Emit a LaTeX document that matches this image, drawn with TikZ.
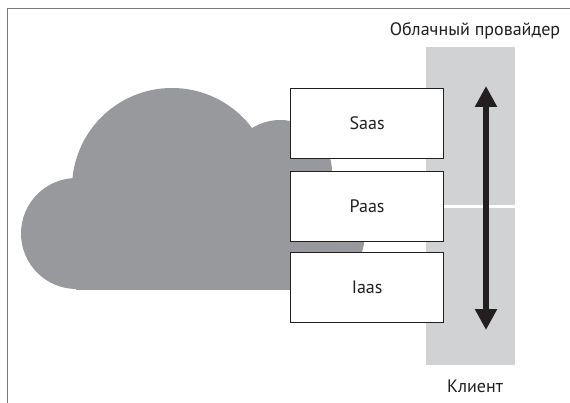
\documentclass[tikz,border=0pt]{standalone}
\usepackage{fontspec}
\setmainfont{PT Sans}
\usetikzlibrary{arrows.meta}
\definecolor{cloudgray}{HTML}{98999C}
\definecolor{colgray}{HTML}{D1D2D4}
\definecolor{inkc}{HTML}{231F20}
\definecolor{framec}{HTML}{7A7A7A}
\tikzset{
  layerbox/.style={draw=inkc, line width=1.2pt, fill=white, minimum width=153pt,
    minimum height=70pt, inner sep=0pt, anchor=north west, font=\fontsize{18}{21}\selectfont, text=inkc},
  sidelabel/.style={inner sep=0pt, font=\fontsize{18}{21}\selectfont, text=inkc},
  colrect/.style={fill=colgray, draw=none},
  framel/.style={draw=framec, line width=1pt},
  bigarrow/.style={draw=inkc, line width=6pt,
    {Triangle[width=21pt,length=21pt]}-{Triangle[width=21pt,length=21pt]}}
}
\begin{document}
\begin{tikzpicture}[x=1pt,y=-1pt]
\useasboundingbox (0,0) rectangle (570,403);
\fill[white] (0,0) rectangle (570,403);
% frame
\draw[framel] (7.5,403) -- (7.5,8.5) -- (570,8.5);
% column
\fill[colrect] (426,47) rectangle (515,205.5);
\fill[colrect] (426,208) rectangle (515,365);
% cloud
\begin{scope}
\clip (0,0) rectangle (570,289.5);
\fill[cloudgray] (76.5,233.5) circle[radius=55.5pt];
\fill[cloudgray] (172,188) circle[radius=100pt];
\fill[cloudgray] (280,172) circle[radius=52pt];
\fill[cloudgray] (298,232) circle[radius=67pt];
\fill[cloudgray] (76,185) rectangle (300,290);
\end{scope}
% boxes
\node[layerbox] (saas) at (290,88) {Saas};
\node[layerbox] (paas) at (290,171) {Paas};
\node[layerbox] (iaas) at (290,252) {Iaas};
% arrow
\coordinate (atop) at (486,86);
\coordinate (abot) at (486,330);
\draw[bigarrow] (atop) -- (abot);
% labels
\node[sidelabel] (prov) at (475,31) {Облачный провайдер};
\node[sidelabel] (client) at (475,386.5) {Клиент};
\end{tikzpicture}
\end{document}
